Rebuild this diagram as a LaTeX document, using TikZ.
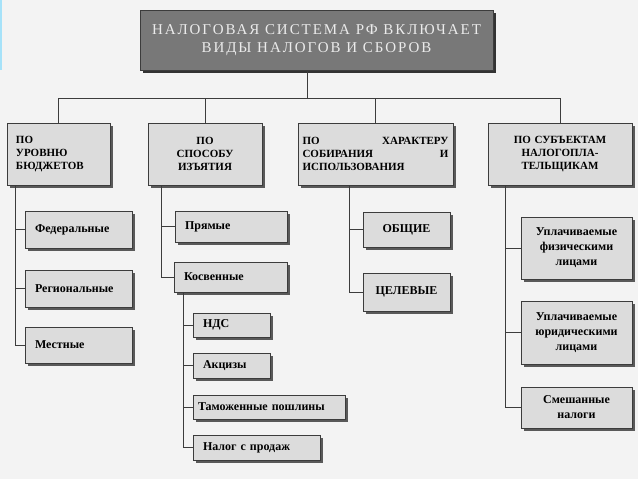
\documentclass[tikz,border=0pt]{standalone}
\usepackage{fontspec}
\setmainfont{Liberation Serif}
\newfontfamily\wideserif[LetterSpace=13]{Liberation Serif}
\usetikzlibrary{shadows}

\definecolor{pagebg}{HTML}{F3F3F3}
\definecolor{boxfill}{HTML}{DCDCDC}
\definecolor{headfill}{HTML}{787878}
\definecolor{edge}{HTML}{3C3C3C}

\begin{document}
\begin{tikzpicture}[x=1pt, y=-1pt,
  head/.style={draw=edge, fill=headfill, text=black!8, align=center,
               minimum width=353pt, minimum height=60pt,
               font=\wideserif\fontsize{15}{18}\selectfont,
               drop shadow={shadow xshift=3pt, shadow yshift=-3pt, fill=black!80, opacity=1}},
  cat/.style={draw=edge, fill=boxfill, minimum height=62pt, inner xsep=9pt,
              font=\bfseries\fontsize{11}{13}\selectfont,
              drop shadow={shadow xshift=3pt, shadow yshift=-3pt, fill=black!65, opacity=1}},
  item/.style={draw=edge, fill=boxfill, inner xsep=10pt, align=left,
               font=\bfseries\fontsize{12}{15}\selectfont,
               drop shadow={shadow xshift=3pt, shadow yshift=-3pt, fill=black!65, opacity=1}},
  wire/.style={edge, line width=0.9pt}
]
% ---------------- page ----------------
\useasboundingbox[fill=pagebg] (0,0) rectangle (638,479);
\fill[cyan!35] (0,0) rectangle (2,70);

% ---------------- top ----------------
\node[head] (top) at (316.5,40) {НАЛОГОВАЯ СИСТЕМА РФ ВКЛЮЧАЕТ\\ВИДЫ НАЛОГОВ И СБОРОВ};
\coordinate (bus) at (307,98);

% ---------------- groups ----------------
\node[cat, text width=85pt, align=left] (lvl) at (58.5,154) {ПО\\УРОВНЮ\\БЮДЖЕТОВ};
\node[cat, text width=96pt, align=center] (way) at (205,154) {ПО\\СПОСОБУ\\ИЗЪЯТИЯ};
\node[cat, inner xsep=4.5pt, text width=146pt, align=left] (use) at (375.5,154)
  {ПО\hfill ХАРАКТЕРУ\\СОБИРАНИЯ\hfill И\\ИСПОЛЬЗОВАНИЯ};
\node[cat, text width=126pt, align=center] (pay) at (560,154) {ПО СУБЪЕКТАМ\\НАЛОГОПЛА-\\ТЕЛЬЩИКАМ};

\draw[wire] (top.south -| bus) -- (bus);
\draw[wire] (bus) -| (lvl.north);
\draw[wire] (bus) -| (way.north);
\draw[wire] (bus) -| (use.north);
\draw[wire] (bus) -| (pay.north);

% ---------------- by budget level ----------------
\node[item, text width=87pt, minimum height=37pt] (fed) at (78.5,229.5) {Федеральные};
\node[item, text width=87pt, minimum height=37pt] (reg) at (78.5,288.5) {Региональные};
\node[item, text width=87pt, minimum height=36pt] (loc) at (78.5,345) {Местные};
\coordinate (s1) at (15,185);
\draw[wire] (s1) |- (fed.west);
\draw[wire] (s1) |- (reg.west);
\draw[wire] (s1) |- (loc.west);

% ---------------- by way of collection ----------------
\node[item, text width=92pt, minimum height=31pt] (dir) at (231,226.5) {Прямые};
\node[item, text width=93pt, minimum height=30pt] (ind) at (230.5,277) {Косвенные};
\coordinate (s2) at (161,185);
\draw[wire] (s2) |- (dir.west);
\draw[wire] (s2) |- (ind.west);

\node[item, text width=57pt, minimum height=24pt] (vat) at (231.5,325) {НДС};
\node[item, text width=57pt, minimum height=25pt] (exc) at (231.5,365.5) {Акцизы};
\node[item, inner xsep=5pt, text width=142pt, minimum height=24pt] (cus) at (269,407) {Таможенные пошлины};
\node[item, text width=107pt, minimum height=25pt] (sal) at (256.5,447.5) {Налог с продаж};
\coordinate (s2b) at (183,292);
\draw[wire] (s2b) |- (vat.west);
\draw[wire] (s2b) |- (exc.west);
\draw[wire] (s2b) |- (cus.west);
\draw[wire] (s2b) |- (sal.west);

% ---------------- by use ----------------
\node[item, align=center, text width=67pt, minimum height=35pt] (gen) at (406.5,229.5) {ОБЩИЕ};
\node[item, align=center, text width=67pt, minimum height=38pt] (tgt) at (406.5,292) {ЦЕЛЕВЫЕ};
\coordinate (s3) at (349,185);
\draw[wire] (s3) |- (gen.west);
\draw[wire] (s3) |- (tgt.west);

% ---------------- by payer ----------------
\node[item, align=center, inner xsep=4pt, text width=103pt, minimum height=62pt] (phy) at (576.5,248)
  {Уплачиваемые\\физическими\\лицами};
\node[item, align=center, inner xsep=4pt, text width=103pt, minimum height=63pt] (jur) at (576.5,332.5)
  {Уплачиваемые\\юридическими\\лицами};
\node[item, align=center, inner xsep=4pt, text width=103pt, minimum height=41pt] (mix) at (576.5,407.5)
  {Смешанные\\налоги};
\coordinate (s4) at (505,185);
\draw[wire] (s4) |- (phy.west);
\draw[wire] (s4) |- (jur.west);
\draw[wire] (s4) |- (mix.west);
\end{tikzpicture}
\end{document}
